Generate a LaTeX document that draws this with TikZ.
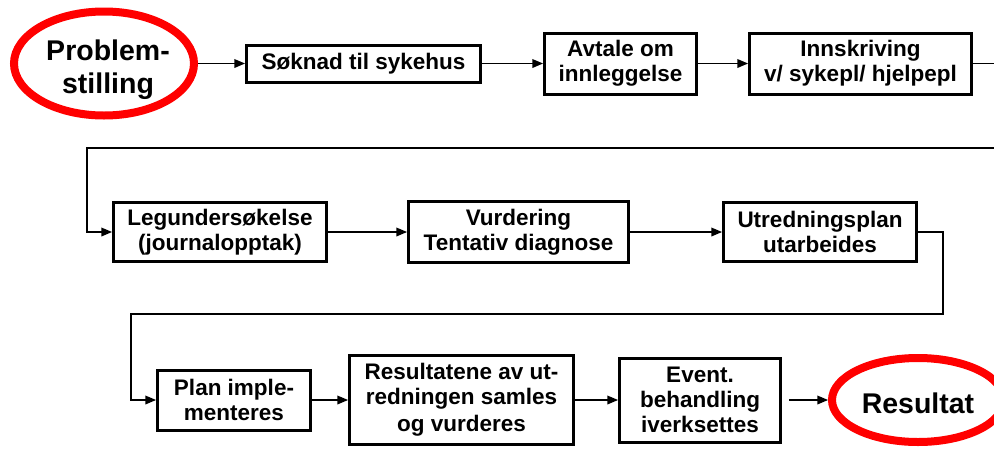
\documentclass[tikz,border=0pt]{standalone}
\usepackage{fontspec}
\setmainfont{Liberation Sans}
\usetikzlibrary{arrows,shapes.geometric}
\begin{document}
\begin{tikzpicture}[x=1pt, y=-1pt, >=triangle 45, line width=1.5pt,
  box/.style={draw, line width=3pt, rectangle, align=center, inner sep=0pt,
    font=\fontsize{22.5}{25}\selectfont\bfseries},
  oval/.style={draw=red, line width=8pt, ellipse, inner sep=0pt},
  ovaltext/.style={align=center, inner sep=0pt, font=\fontsize{28.5}{33}\selectfont\bfseries}]
\useasboundingbox (0,0) rectangle (994,448);
\fill [white] (0,0) rectangle (994,448);
\node [oval, minimum width=180pt, minimum height=104pt,
  label={[ovaltext, xshift=4pt, yshift=-6pt]center:Problem-\\stilling}] (problem) at (104,63.5) {};
\node [box, minimum width=234pt, minimum height=37pt] (soknad) at (363.5,63.5) {Søknad til sykehus};
\node [box, minimum width=152pt, minimum height=61pt] (avtale) at (620.5,63.5) {Avtale om\\innleggelse};
\node [box, minimum width=222pt, minimum height=61pt] (innskr) at (860.5,63.5) {Innskriving\\v/ sykepl/ hjelpepl};
\node [box, minimum width=213pt, minimum height=59pt] (legund) at (220,232) {Legundersøkelse\\(journalopptak)};
\node [box, minimum width=220pt, minimum height=61pt] (vurd) at (518.5,232) {Vurdering\\Tentativ diagnose};
\node [box, minimum width=193pt, minimum height=59pt] (utred) at (820,232) {Utredningsplan\\utarbeides};
\node [box, minimum width=153pt, minimum height=60pt] (plan) at (234,400) {Plan imple-\\menteres};
\node [box, minimum width=224pt, minimum height=89pt] (result) at (461.5,400) {Resultatene av ut-\\redningen samles\\[2pt]og vurderes};
\node [box, minimum width=161pt, minimum height=84pt] (event) at (700,400) {Event.\\behandling\\iverksettes};
\node [oval, minimum width=172pt, minimum height=84pt,
  label={[ovaltext, yshift=-3pt]center:Resultat}] (resultat) at (918,400) {};
\coordinate (rightA) at (1010,148);
\coordinate (leftA) at (87,148);
\coordinate (rightB) at (943,314);
\coordinate (leftB) at (131,314);
\draw [->] (problem.east) -- (soknad.west);
\draw [->] (soknad.east) -- (avtale.west);
\draw [->] (avtale.east) -- (innskr.west);
\draw [->] (innskr.east) -| (rightA) -- (leftA) |- (legund.west);
\draw [->] (legund.east) -- (vurd.west);
\draw [->] (vurd.east) -- (utred.west);
\draw [->] (utred.east) -| (rightB) -- (leftB) |- (plan.west);
\draw [->] (plan.east) -- (result.west);
\draw [->] (result.east) -- (event.west);
\draw [->, shorten <=7pt] (event.east) -- (resultat.west);
\end{tikzpicture}
\end{document}
